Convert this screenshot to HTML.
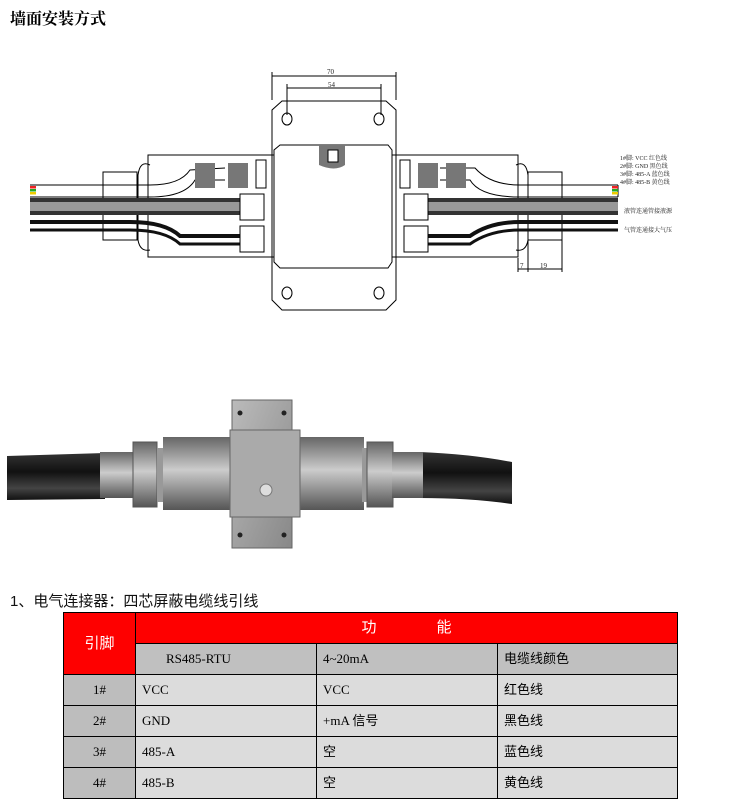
<!DOCTYPE html>
<html><head><meta charset="utf-8"><style>
body{margin:0;background:#fff;width:745px;height:806px;position:relative;overflow:hidden;font-family:"Liberation Sans","Noto Sans CJK SC",sans-serif}
.t{position:absolute;left:10px;top:6px;font-size:16px;font-weight:bold;font-family:"Liberation Serif","Noto Serif CJK SC",serif}
.h{position:absolute;left:10px;top:590px;font-size:15px;color:#111}
table{position:absolute;left:63px;top:612px;border-collapse:collapse;table-layout:fixed;width:614px;font-family:"Liberation Serif","Noto Sans CJK SC",serif;font-size:13px}
td{border:1px solid #000;height:30px;padding:0 6px;background:#dcdcdc;line-height:14px}
.r{background:#fe0000;color:#fff;text-align:center;font-size:15px}
.g{background:#c0c0c0}
.p{background:#bdbdbd;text-align:center}
</style></head><body>
<div class="t">墙面安装方式</div>
<svg width="745" height="560" style="position:absolute;left:0;top:0" xmlns="http://www.w3.org/2000/svg">
<g fill="none" stroke="#000" stroke-width="1">
<line x1="272" y1="76" x2="396" y2="76"/><line x1="272" y1="72" x2="272" y2="100"/><line x1="396" y1="72" x2="396" y2="100"/>
<line x1="287" y1="88" x2="381" y2="88"/><line x1="287" y1="84" x2="287" y2="115"/><line x1="381" y1="84" x2="381" y2="115"/>
<path d="M282 101 L386 101 L396 110 L396 300 L386 310 L282 310 L272 300 L272 110 Z"/>
<path d="M280 145 L388 145 L392 150 L392 262 L388 268 L280 268 L274 262 L274 150 Z" fill="#fff"/>
<ellipse cx="287" cy="119" rx="5" ry="6"/><ellipse cx="379" cy="119" rx="5" ry="6"/>
<ellipse cx="287" cy="293" rx="5" ry="6"/><ellipse cx="379" cy="293" rx="5" ry="6"/>
<rect x="148" y="155" width="126" height="102"/><rect x="392" y="155" width="126" height="102"/>
<path d="M150 165 Q140 160 138 175 L138 240 Q140 252 150 250"/>
<path d="M516 165 Q526 160 528 175 L528 240 Q526 252 516 250"/>
<rect x="103" y="172" width="34" height="68"/><rect x="528" y="172" width="34" height="68"/>
<line x1="518" y1="258" x2="518" y2="272"/><line x1="528" y1="240" x2="528" y2="272"/><line x1="562" y1="240" x2="562" y2="272"/>
<line x1="518" y1="269" x2="562" y2="269"/>
<path d="M30 185 L150 185 Q180 185 190 170 L225 168"/>
<path d="M30 197 L150 197 Q185 197 195 180 L225 180"/>
<path d="M618 185 L520 185 Q490 185 475 168 L440 168"/>
<path d="M618 197 L520 197 Q480 197 470 180 L440 180"/>
<line x1="618" y1="185" x2="618" y2="197"/>
</g>
<g stroke="none">
<rect x="30" y="186" width="6" height="2.5" fill="#e22"/><rect x="30" y="189" width="6" height="2.5" fill="#2a2"/><rect x="30" y="192" width="6" height="2.5" fill="#ec0"/>
<rect x="612" y="186" width="6" height="2.5" fill="#e22"/><rect x="612" y="189" width="6" height="2.5" fill="#2a2"/><rect x="612" y="192" width="6" height="2.5" fill="#ec0"/>
<rect x="195" y="163" width="20" height="25" fill="#777"/><rect x="228" y="163" width="20" height="25" fill="#777"/>
<rect x="418" y="163" width="20" height="25" fill="#777"/><rect x="446" y="163" width="20" height="25" fill="#777"/>
<rect x="30" y="198" width="210" height="17" fill="#333"/><rect x="30" y="202" width="210" height="9" fill="#999"/>
<rect x="428" y="198" width="190" height="17" fill="#333"/><rect x="428" y="202" width="190" height="9" fill="#999"/>
<path d="M30 222 L130 222 Q165 222 180 236 L240 236" stroke="#111" stroke-width="4" fill="none"/>
<path d="M30 230 L130 230 Q165 230 180 244 L240 244" stroke="#111" stroke-width="3" fill="none"/>
<path d="M618 222 L520 222 Q490 222 470 236 L428 236" stroke="#111" stroke-width="4" fill="none"/>
<path d="M618 230 L520 230 Q490 230 470 244 L428 244" stroke="#111" stroke-width="3" fill="none"/>
<g fill="#fff" stroke="#000"><rect x="240" y="194" width="24" height="26"/><rect x="240" y="226" width="24" height="26"/>
<rect x="404" y="194" width="24" height="26"/><rect x="404" y="226" width="24" height="26"/>
<rect x="256" y="160" width="10" height="28"/><rect x="400" y="160" width="10" height="28"/></g>
<path d="M319 145 L345 145 L345 165 Q335 172 319 165 Z" fill="#777"/><rect x="328" y="150" width="10" height="12" fill="#fff" stroke="#000"/>
</g>
<g font-family="Liberation Serif,Noto Serif CJK SC,serif" font-size="7" fill="#222">
<text x="327" y="74">70</text><text x="328" y="87">54</text>
<text x="520" y="268">7</text><text x="540" y="268">19</text>
<text x="620" y="160" font-size="6">1#脚: VCC  红色线</text>
<text x="620" y="168" font-size="6">2#脚: GND  黑色线</text>
<text x="620" y="176" font-size="6">3#脚: 485-A 蓝色线</text>
<text x="620" y="184" font-size="6">4#脚: 485-B 黄色线</text>
<text x="624" y="213" font-size="6">液管连通管接液源</text>
<text x="624" y="232" font-size="6">气管连通接大气压</text>
</g>
<defs>
<linearGradient id="cab" x1="0" y1="0" x2="0" y2="1"><stop offset="0" stop-color="#333"/><stop offset=".4" stop-color="#111"/><stop offset=".75" stop-color="#444"/><stop offset="1" stop-color="#111"/></linearGradient>
<linearGradient id="cyl" x1="0" y1="0" x2="0" y2="1"><stop offset="0" stop-color="#666"/><stop offset=".45" stop-color="#ccc"/><stop offset="1" stop-color="#555"/></linearGradient>
<linearGradient id="blk" x1="0" y1="0" x2="1" y2="1"><stop offset="0" stop-color="#bbb"/><stop offset="1" stop-color="#888"/></linearGradient>
</defs>
<path d="M7 456 L105 453 L105 499 L7 500 Z" fill="url(#cab)"/>
<path d="M420 452 Q470 454 512 462 L512 504 Q470 498 420 498 Z" fill="url(#cab)"/>
<rect x="100" y="452" width="36" height="46" fill="url(#cyl)"/>
<rect x="133" y="442" width="24" height="65" fill="url(#cyl)" stroke="#555"/>
<rect x="157" y="448" width="8" height="54" fill="#999"/>
<rect x="163" y="437" width="70" height="73" fill="url(#cyl)"/>
<rect x="298" y="437" width="66" height="73" fill="url(#cyl)"/>
<rect x="362" y="448" width="8" height="54" fill="#999"/>
<rect x="367" y="442" width="26" height="65" fill="url(#cyl)" stroke="#555"/>
<rect x="392" y="452" width="31" height="46" fill="url(#cyl)"/>
<rect x="232" y="400" width="60" height="148" fill="url(#blk)" stroke="#666"/>
<rect x="230" y="430" width="70" height="87" fill="#aaa" stroke="#666"/>
<circle cx="240" cy="413" r="2.5" fill="#222"/><circle cx="284" cy="413" r="2.5" fill="#222"/>
<circle cx="240" cy="535" r="2.5" fill="#222"/><circle cx="284" cy="535" r="2.5" fill="#222"/>
<circle cx="266" cy="490" r="6" fill="#ddd" stroke="#777"/>
</svg>
<div class="h">1、电气连接器：四芯屏蔽电缆线引线</div>
<table>
<colgroup><col style="width:72px"><col style="width:181px"><col style="width:181px"><col style="width:180px"></colgroup>
<tr><td class="r" rowspan="2" style="padding:0">引脚</td><td class="r" colspan="3">功　　　　能</td></tr>
<tr><td class="g" style="padding-left:30px">RS485-RTU</td><td class="g">4~20mA</td><td class="g">电缆线颜色</td></tr>
<tr><td class="p">1#</td><td>VCC</td><td>VCC</td><td>红色线</td></tr>
<tr><td class="p">2#</td><td>GND</td><td>+mA 信号</td><td>黑色线</td></tr>
<tr><td class="p">3#</td><td>485-A</td><td>空</td><td>蓝色线</td></tr>
<tr><td class="p">4#</td><td>485-B</td><td>空</td><td>黄色线</td></tr>
</table>
</body></html>
